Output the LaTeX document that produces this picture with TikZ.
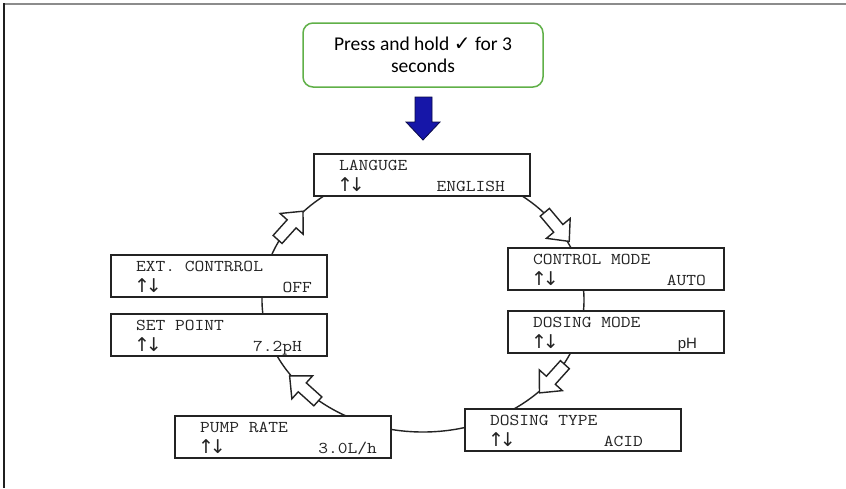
\documentclass[tikz,border=0pt]{standalone}
\usepackage{fontspec}
\usepackage{graphicx}
\usetikzlibrary{shapes.geometric,calc}
\newfontfamily\calib{Carlito}
\newfontfamily\dejavu{DejaVu Sans}
\newfontfamily\arialf{Liberation Sans}
\definecolor{greenc}{RGB}{96,176,72}
\definecolor{navyfill}{RGB}{22,22,168}
\definecolor{navyedge}{RGB}{10,10,70}
\definecolor{linec}{RGB}{35,35,35}
\newcommand{\lcdt}[1]{\scalebox{1.15}[1]{\fontsize{16.5}{18}\selectfont\ttfamily #1}}
\newcommand{\updn}{{\dejavu\fontsize{19}{20}\selectfont ↑\kern-4pt↓}}
\tikzset{
  lcdbox/.style={draw=linec, line width=1.4pt, fill=white, minimum width=216, minimum height=42, inner sep=0, outer sep=0, anchor=north west},
  txt/.style={inner sep=0, outer sep=0, text=linec},
  hollow/.pic={\draw[linec, line width=1.4pt, fill=white, line join=miter] (-18,-6) -- (3,-6) -- (3,-15.5) -- (20,0) -- (3,15.5) -- (3,6) -- (-18,6) -- cycle;}
}
\newcommand{\lcd}[7]{%
  \node[lcdbox] (#1) at (#2,#3) {};
  \node[txt, anchor=base west] (#1t) at ($(#1.north west)+(25,16.5)$) {\lcdt{#4}};
  \node[txt, anchor=base west] (#1a) at ($(#1.north west)+(23,37.5)$) {\updn};
  \node[txt, anchor=base east] (#1v) at ($(#1.north west)+(#6,37.5)$) {#7{#5}};
}
\begin{document}
\begin{tikzpicture}[x=1pt, y=-1pt]
\useasboundingbox (0,0) rectangle (846,488);
\fill[white] (0,0) rectangle (846,488);
% frame
\draw[line width=1.6pt, black!45] (3,4) -- (846,4);
\draw[line width=2.2pt, black!88] (4,3.2) -- (4,488);
% start box
\node[draw=greenc, line width=1.5pt, rounded corners=10pt, fill=white, minimum width=240, minimum height=64, inner sep=0, align=center, font=\calib\fontsize{19.5}{22}\selectfont] (start) at (423,55) {Press and hold {\dejavu\fontsize{20}{20}\selectfont ✓} for 3\\seconds};
% blue arrow
\filldraw[fill=navyfill, draw=navyedge, line width=0.8pt, line join=miter] (415,97) -- (432,97) -- (432,122) -- (440,122) -- (423,140) -- (406,122) -- (415,122) -- cycle;
% ring
\node[ellipse, draw=linec, line width=1.4pt, minimum width=322, minimum height=264, inner sep=0, outer sep=0] (ring) at (423,300) {};
% boxes
\lcd{lang}{314}{154}{LANGUGE}{ENGLISH}{191}{\lcdt}
\lcd{ext}{111}{255}{EXT. CONTRROL}{OFF}{201}{\lcdt}
\lcd{setp}{111}{314}{SET POINT}{7.2pH}{191}{\lcdt}
\lcd{ctrl}{508}{248}{CONTROL MODE}{AUTO}{198}{\lcdt}
\lcd{dmode}{508}{311}{DOSING MODE}{pH}{189}{\arialf\fontsize{15}{18}\selectfont}
\lcd{pump}{175}{416}{PUMP RATE}{3.0L/h}{202}{\lcdt}
\lcd{dtype}{465}{409}{DOSING TYPE}{ACID}{178}{\lcdt}
% hollow arrows on ring
\pic[rotate=48] at (ring.151) {hollow};
\pic[rotate=-50] at (ring.29) {hollow};
\pic[rotate=-132] at (ring.-31) {hollow};
\pic[rotate=138] at (ring.217) {hollow};
\end{tikzpicture}
\end{document}
